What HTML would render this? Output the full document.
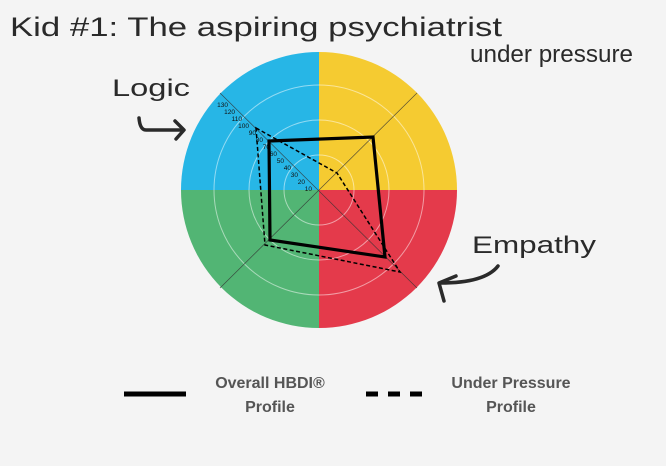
<!DOCTYPE html>
<html><head><meta charset="utf-8"><style>
html,body{margin:0;padding:0;background:#f4f4f4;}
svg{display:block;}
</style></head><body>
<svg width="666" height="466" viewBox="0 0 666 466" xmlns="http://www.w3.org/2000/svg">
<rect width="666" height="466" fill="#f4f4f4"/>
<g font-family="Liberation Sans, sans-serif" fill="#2a2a2a">
<text x="10" y="36" font-size="27" textLength="492" lengthAdjust="spacingAndGlyphs">Kid #1: The aspiring psychiatrist</text>
<text x="470" y="62" font-size="24" textLength="163" lengthAdjust="spacingAndGlyphs">under pressure</text>
<text x="112" y="96" font-size="24" textLength="78" lengthAdjust="spacingAndGlyphs">Logic</text>
<text x="472" y="253" font-size="24" textLength="124" lengthAdjust="spacingAndGlyphs">Empathy</text>
</g>
<g fill="none" stroke="#2a2a2a" stroke-width="3.5" stroke-linecap="round" stroke-linejoin="round">
<path d="M139 118 Q140 130 146 130 L183 130"/>
<path d="M175 121 L184 130 L176 139"/>
<path d="M498 266 Q485 283 440 283"/>
<path d="M456 276 L439 283 L444 301"/>
</g>
<g transform="translate(319,190)">
<path d="M0 0 L0 -138 A138 138 0 0 0 -138 0 Z" fill="#27b6e6"/>
<path d="M0 0 L0 -138 A138 138 0 0 1 138 0 Z" fill="#f5cb31"/>
<path d="M0 0 L-138 0 A138 138 0 0 0 0 138 Z" fill="#52b574"/>
<path d="M0 0 L138 0 A138 138 0 0 1 0 138 Z" fill="#e43a4b"/>
<g fill="none" stroke="#fff" stroke-opacity="0.5" stroke-width="1">
<circle r="35"/><circle r="70"/><circle r="105"/>
</g>
<g stroke="#333" stroke-width="0.7" opacity="0.8">
<line x1="-99" y1="-97" x2="98" y2="98"/>
<line x1="98" y1="-97" x2="-99" y2="98"/>
</g>
<g font-family="Liberation Sans, sans-serif" font-size="6.5" fill="#111" text-anchor="end">
<text x="-7" y="1">10</text><text x="-14" y="-6">20</text><text x="-21" y="-13">30</text>
<text x="-28" y="-20">40</text><text x="-35" y="-27">50</text><text x="-42" y="-34">60</text>
<text x="-49" y="-41">70</text><text x="-56" y="-48">80</text><text x="-63" y="-55">90</text>
<text x="-70" y="-62">100</text><text x="-77" y="-69">110</text><text x="-84" y="-76">120</text>
<text x="-91" y="-83">130</text>
</g>
</g>
<polygon points="269,141 373,137 385,257 270,240" fill="none" stroke="#000" stroke-width="3.2"/>
<polygon points="256,128 337,173 400,272 265,245" fill="none" stroke="#000" stroke-width="1.5" stroke-dasharray="4,2.5"/>
<line x1="124" y1="394" x2="186" y2="394" stroke="#000" stroke-width="5"/>
<line x1="366" y1="394" x2="428" y2="394" stroke="#000" stroke-width="5" stroke-dasharray="12,10"/>
<g font-family="Liberation Sans, sans-serif" font-size="16" font-weight="bold" fill="#555" text-anchor="middle">
<text x="270" y="388">Overall HBDI®</text>
<text x="270" y="412">Profile</text>
<text x="511" y="388">Under Pressure</text>
<text x="511" y="412">Profile</text>
</g>
</svg>
</body></html>
